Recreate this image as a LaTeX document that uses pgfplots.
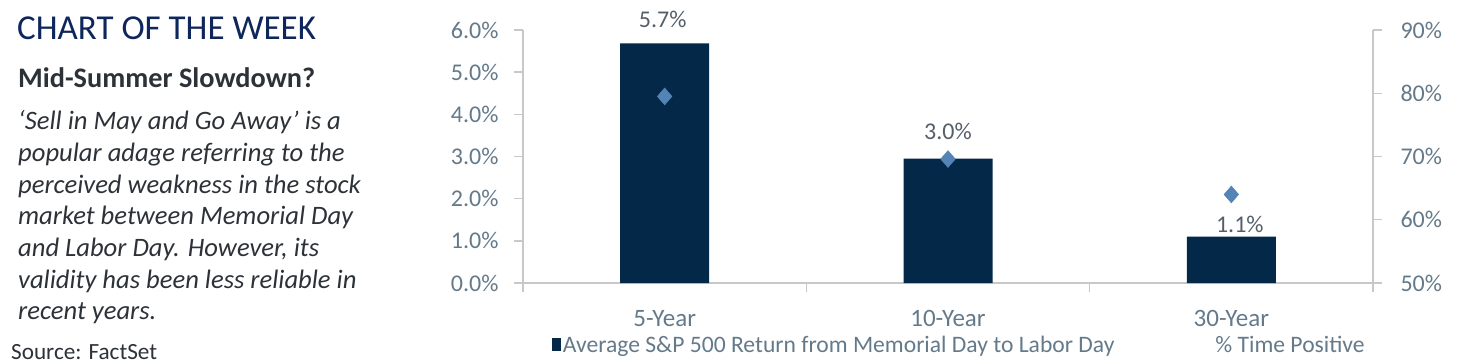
\documentclass[border=0pt]{standalone}
\usepackage{fontspec}
\setmainfont{Carlito}
\usepackage{pgfplots}
\pgfplotsset{compat=1.18}
\definecolor{navy}{RGB}{3,40,72}
\definecolor{diam}{RGB}{84,132,182}
\definecolor{tickgray}{RGB}{100,122,138}
\definecolor{labgray}{RGB}{85,95,105}
\definecolor{axgray}{RGB}{200,200,200}
\definecolor{titlenavy}{RGB}{14,38,92}
\definecolor{bodygray}{RGB}{45,50,56}
\begin{document}
\begin{tikzpicture}
\useasboundingbox (-523pt,-81pt) rectangle (942pt,283pt);
% left text panel
\node[anchor=base west, inner sep=0pt, text=titlenavy, font=\fontsize{35}{40}\selectfont] at (-506pt,243pt) {CHART OF THE WEEK};
\node[anchor=base west, inner sep=0pt, text=bodygray, font=\fontsize{28.3}{32}\selectfont\bfseries] at (-505pt,195pt) {Mid-Summer Slowdown?};
\begin{scope}[every node/.style={anchor=base west, inner sep=0pt, text=bodygray, font=\fontsize{26.6}{30}\selectfont\itshape}]
\node at (-505pt,153pt) {‘Sell in May and Go Away’ is a};
\node at (-505pt,121.3pt) {popular adage referring to the};
\node at (-505pt,89.7pt) {perceived weakness in the stock};
\node at (-505pt,58pt) {market between Memorial Day};
\node at (-505pt,26.3pt) {and Labor Day. However, its};
\node at (-505pt,-5.3pt) {validity has been less reliable in};
\node at (-505pt,-37pt) {recent years.};
\end{scope}
\node[anchor=base west, inner sep=0pt, text=bodygray, font=\fontsize{23.2}{27}\selectfont] at (-512pt,-76pt) {Source: FactSet};
% main axis
\begin{axis}[
  at={(0pt,0pt)}, anchor=south west,
  scale only axis, width=850pt, height=253pt,
  xmin=-0.5, xmax=2.5, ymin=0, ymax=6,
  clip=false,
  axis x line*=bottom, axis y line*=left,
  axis line style={draw=axgray, line width=1.5pt},
  every tick/.style={draw=axgray, line width=1.5pt},
  tick align=outside,
  xtick={0,1,2}, xticklabels={5-Year,10-Year,30-Year},
  major x tick style={draw=none},
  major tick length=9pt, minor tick length=9pt,
  minor xtick={-0.5,0.5,1.5,2.5},
  ytick={0,1,2,3,4,5,6},
  /pgf/number format/assume math mode=true,
  yticklabel={\pgfmathprintnumber[fixed,fixed zerofill,precision=1]{\tick}\%},
  yticklabel style={font=\fontsize{24}{28}\selectfont, text=tickgray, xshift=-12pt},
  xticklabel style={font=\fontsize{25}{29}\selectfont, text=tickgray, yshift=-15pt},
  legend style={draw=none, fill=none, inner sep=0pt, outer sep=0pt,
    at={(0.034,-0.245)}, anchor=west,
    font=\fontsize{23.6}{27}\selectfont, text=tickgray,
    /tikz/every even column/.append style={column sep=97pt}},
  legend columns=2,
  legend cell align=left,
]
\addplot[ybar, bar width=89pt, fill=navy, draw=none,
  legend image code/.code={\fill[navy] (0pt,-6.5pt) rectangle (9pt,6.5pt);}]
  coordinates {(0,5.68) (1,2.95) (2,1.10)};
\addlegendentry{Average S\&P 500 Return from Memorial Day to Labor Day}
\addlegendimage{empty legend}
\addlegendentry{\% Time Positive}
\addplot[draw=none, mark=none, forget plot,
  nodes near coords={\pgfplotspointmeta\%},
  point meta=explicit symbolic,
  every node near coord/.append style={anchor=base, inner sep=0pt, font=\fontsize{24}{28}\selectfont, text=labgray}]
  table[meta=lab] {
x y lab
-0.007 6.05 5.7
1 3.415 3.0
2.03 1.186 1.1
};
\end{axis}
% secondary axis
\begin{axis}[
  at={(0pt,0pt)}, anchor=south west,
  scale only axis, width=850pt, height=253pt,
  xmin=-0.5, xmax=2.5, ymin=50, ymax=90,
  clip=false,
  axis x line=none, axis y line*=right,
  axis line style={draw=axgray, line width=1.5pt},
  every tick/.style={draw=axgray, line width=1.5pt},
  tick align=outside, major tick length=9pt,
  ytick={50,60,70,80,90},
  /pgf/number format/assume math mode=true,
  yticklabel={\pgfmathprintnumber{\tick}\%},
  yticklabel style={font=\fontsize{24}{28}\selectfont, text=tickgray, xshift=15pt},
]
\addplot[only marks, mark=diamond*, mark size=8.5pt, color=diam,
  mark options={xscale=1.15, draw=diam, fill=diam}]
  coordinates {(0,79.5) (1,69.6) (2,64.0)};
\end{axis}
\end{tikzpicture}
\end{document}
